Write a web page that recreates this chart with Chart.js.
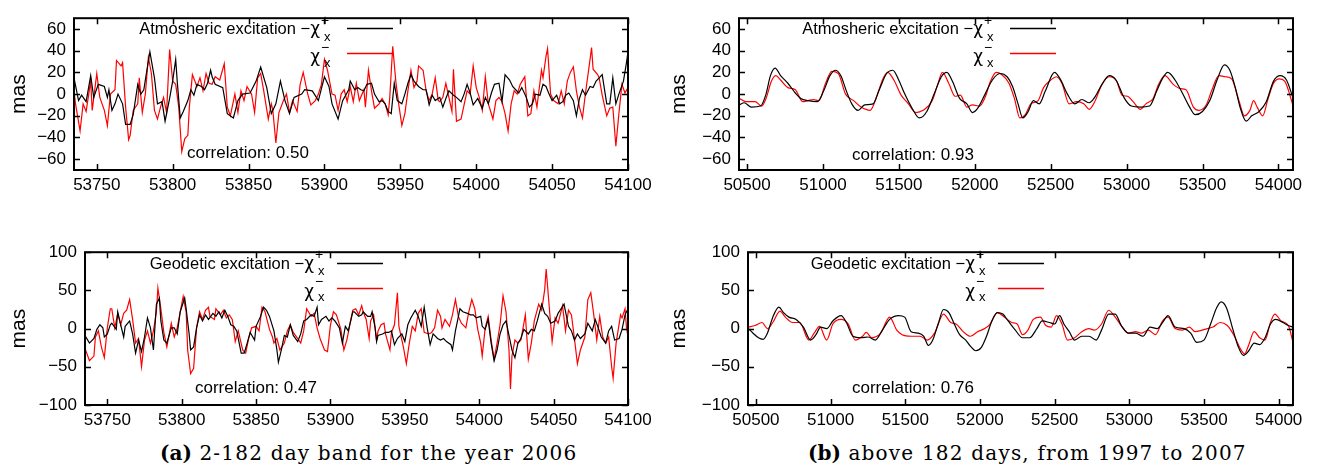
<!DOCTYPE html>
<html>
<head>
<meta charset="utf-8">
<script src="https://cdn.jsdelivr.net/npm/chart.js@4.4.1/dist/chart.umd.min.js"></script>
<style>
html, body { margin: 0; padding: 0; background: #fff; }
body { width: 1325px; height: 476px; position: relative; overflow: hidden; }
.panel { position: absolute; height: 200px; }
.cap { position: absolute; top: 440px; font-family: "DejaVu Serif", serif; font-size: 20px; line-height: 26px; letter-spacing: 1.2px; color: #000; white-space: nowrap; }
.cap b { letter-spacing: 0; }
</style>
</head>
<body>
<div class="panel" style="left:0;top:0;width:660px"><canvas id="aTop" width="660" height="200"></canvas></div>
<div class="panel" style="left:660px;top:0;width:665px"><canvas id="bTop" width="665" height="200"></canvas></div>
<div class="panel" style="left:0;top:234px;width:660px"><canvas id="aBot" width="660" height="200"></canvas></div>
<div class="panel" style="left:660px;top:234px;width:665px"><canvas id="bBot" width="665" height="200"></canvas></div>
<div class="cap" style="left:160px"><b>(a)</b> 2-182 day band for the year 2006</div>
<div class="cap" style="left:808px"><b>(b)</b> above 182 days, from 1997 to 2007</div>
<script>
// tick labels
const aXTicks = [53750, 53800, 53850, 53900, 53950, 54000, 54050, 54100];
const bXTicks = [50500, 51000, 51500, 52000, 52500, 53000, 53500, 54000];
const atmYTicks = [-60, -40, -20, 0, 20, 40, 60];
const geoYTicks = [-100, -50, 0, 50, 100];

// (a) 2-182 day band, atmospheric, -chi+ (black)
const aAtmPlusDays = [53735,53738,53740,53743,53746,53748,53751,53755,53757,53758,53760,53762,53764,53767,53769,53772,53774,53777,53779,53781,53783,53785,53788,53790,53793,53795,53798,53800,53802,53803,53805,53807,53810,53812,53814,53816,53819,53821,53823,53825,53826,53828,
  53833,53836,53840,53843,53846,53851,53855,53858,53862,53865,53868,53871,53874,53877,53880,53885,53887,53892,53896,53900,53903,53905,53909,53912,
  53916,53917,53920,53922,53924,53926,53928,53931,53933,53936,53938,53940,53942,53944,53946,53948,53951,53953,53955,53957,53959,53962,53965,53967,53969,53971,53973,53976,53978,53980,53982,53985,53987,53990,53992,53994,53996,53998,54001,54004,54006,54008,54010,54012,54015,54017,54019,54022,54024,54026,54028,54030,54033,54035,54037,54039,54042,54044,54046,54048,54050,54053,54055,54057,54059,54061,54064,54066,54068,54070,54072,54075,54077,54079,54081,54083,54086,54088,54090,54092,54094,54097,54099,54100];
const aAtmPlus = [15,-6,-1,-7,17,-3,9,7,-3,4,-15,-9,0,-9,-28,-28,-19,9,0,4,22,39,15,-9,-7,-25,-4,12,32,12,-22,-16,-6,4,-1,9,7,4,10,22,16,9,
  6,-18,-22,-6,0,1,12,25,6,-18,-9,12,-6,-18,-3,0,4,3,-6,16,7,-9,-23,-6,
  4,12,4,6,4,3,9,10,0,-7,-6,-9,-16,-18,10,-6,-9,0,10,18,12,7,4,4,-10,-1,-6,-3,-12,-4,3,-1,-3,-7,0,9,1,-10,-4,-13,-3,-9,1,9,10,-7,18,13,7,4,1,6,-3,-12,-9,0,-1,9,7,0,-6,-1,-9,-7,-1,1,-6,-20,-4,4,-1,7,6,12,15,18,-9,-9,15,-9,0,12,29,39];

// (a) atmospheric, chi- (red)
const aAtmMinusDays = [53735,53736,53739,53741,53743,53746,53747,53750,53752,53755,53757,53759,53762,53763,53766,53767,53769,53771,53772,53774,53777,53778,53780,53782,53784,53786,53788,53790,53792,53794,53796,53798,53800,53802,53804,53806,53808,53810,53811,53813,53816,53818,53820,53822,53824,53826,53828,53831,53834,53836,53838,53841,53843,53845,53847,53849,53852,53854,53856,53858,53860,53863,53865,53866,53868,53870,53873,53875,53877,53879,53882,53884,53886,53889,53891,53894,53896,53898,53900,53902,53905,53907,53909,53911,53913,
  53915,53917,53919,53921,53923,53926,53927,53929,53931,53933,53936,53938,53940,53942,53943,53945,53947,53949,53951,53953,53955,53957,53959,53961,53962,53965,53967,53969,53971,53973,53975,53976,53978,53980,53982,53984,53985,53987,53990,53992,53994,53996,53998,54000,54002,54004,54006,54008,54011,54013,54015,54017,54019,54021,54023,54025,54027,54029,54032,54034,54036,54038,54040,54043,54044,54046,54047,54049,54051,54054,54056,54058,54060,54062,54064,54066,54068,54070,54072,54075,54076,54077,54080,54081,54083,54086,54088,54090,54092,54094,54096,54098,54100];
const aAtmMinus = [3,-9,-34,-9,-16,12,-15,19,-3,-15,-29,0,4,31,26,29,-12,-42,-38,-15,-9,15,-17,0,34,19,-15,-23,-12,-3,-17,41,12,9,-12,-53,-41,-38,-12,18,7,15,3,19,10,9,16,13,28,-12,-20,0,-17,3,-6,7,0,-17,15,19,3,-23,-9,-15,-45,-17,-6,0,-17,-6,-16,9,20,0,-10,-6,0,9,32,22,0,-1,-15,0,4,
  -7,7,-7,10,-6,4,-12,22,3,-13,-9,-4,-9,-19,-4,44,12,-10,-29,-18,3,22,6,12,26,22,3,-6,0,15,-6,-7,-3,10,-3,-16,23,-25,-23,-10,3,0,26,6,-3,-15,16,-9,-23,-6,-3,-7,-18,-34,-9,3,0,9,16,-20,-18,3,-12,22,15,35,42,0,-6,-9,3,-9,12,20,25,3,-12,-22,1,32,43,23,18,15,-1,-20,-13,-12,-48,-18,9,1,6];

// (a) geodetic, -chi+ (black)
const aGeoPlusDays = [53735,53738,53741,53743,53745,53747,53748,53750,53752,53753,53756,53757,53759,53761,53762,53765,53767,53769,53771,53773,53775,53777,53779,53781,53783,53785,53786,53788,53790,53793,53795,53797,53799,53802,53803,53805,53806,53808,53810,53812,53814,53816,53818,53821,53823,53825,53827,53829,53831,53833,53835,53837,53840,53842,53844,53846,53849,53850,53853,53855,53857,53859,53862,53864,53865,53867,53869,53871,53873,53875,53878,53880,53882,53884,53887,53889,53891,53892,53894,53897,53899,53901,53903,53906,53908,53910,53912,53915,
  53916,53919,53921,53922,53925,53927,53928,53930,53931,53932,53935,53937,53939,53941,53943,53945,53948,53950,53952,53954,53957,53959,53961,53963,53965,53967,53969,53972,53974,53976,53978,53981,53982,53984,53986,53987,53989,53992,53994,53996,53998,54001,54002,54004,54006,54008,54010,54012,54014,54016,54018,54020,54022,54024,54026,54028,54030,54033,54035,54037,54039,54042,54044,54046,54048,54051,54053,54055,54057,54060,54062,54064,54066,54068,54071,54073,54076,54078,54080,54082,54085,54087,54089,54091,54094,54096,54098,54100];
const aGeoPlus = [-9,-19,-13,-1,5,1,-11,-7,5,7,-1,22,5,-11,3,10,-7,-32,-15,-30,-11,14,1,-28,32,40,10,-15,-19,1,1,-7,22,40,26,-7,-28,-24,1,18,10,18,12,20,16,22,14,24,16,5,3,-3,-32,-32,-19,-5,-15,3,16,28,24,16,-3,-28,-44,-28,-9,-11,5,-9,-17,-7,10,12,18,16,28,5,12,16,10,14,10,1,-19,3,-3,22,
  22,16,18,22,16,16,22,1,-17,-9,-7,-5,-5,-3,-21,-13,-7,-17,5,14,24,16,3,28,1,-21,-7,-13,-15,-13,-17,-21,-28,-3,16,26,22,20,18,18,14,16,3,-1,12,-19,-42,-28,-7,5,10,-9,-28,-38,-19,-13,-1,-7,-1,-3,10,32,20,16,7,10,20,26,32,3,-3,-15,-7,-13,-7,7,-3,12,1,-11,-19,-3,3,-15,-13,-1,18,26];

// (a) geodetic, chi- (red)
const aGeoMinusDays = [53735,53738,53741,53742,53744,53746,53748,53750,53752,53753,53755,53757,53759,53761,53763,53765,53767,53769,53771,53773,53775,53777,53779,53781,53783,53784,53786,53788,53790,53793,53795,53797,53799,53801,53803,53804,53806,53808,53810,53812,53814,53816,53818,53819,53822,53823,53826,53828,53830,53832,53834,53836,53838,53841,53843,53845,53847,53850,53852,53854,53856,53859,53861,53862,53864,53866,53869,53871,53873,53875,53878,53880,53882,53884,53887,53889,53891,53893,53896,53898,53900,53902,53904,53907,53909,53911,53913,53915,
  53917,53919,53921,53922,53924,53926,53927,53929,53931,53932,53934,53936,53937,53940,53941,53943,53945,53946,53949,53951,53953,53955,53957,53959,53961,53963,53966,53968,53970,53972,53974,53975,53977,53980,53982,53984,53986,53988,53991,53993,53995,53997,53999,54001,54002,54004,54006,54008,54010,54012,54014,54016,54018,54020,54021,54022,54024,54026,54028,54031,54033,54035,54037,54040,54042,54044,54045,54047,54049,54051,54053,54056,54058,54060,54062,54064,54066,54068,54071,54073,54075,54077,54079,54081,54083,54085,54087,54089,54090,54092,54095,54096,54098,54099,54100];
const aGeoMinus = [-26,-42,-36,-11,-3,-24,-38,1,26,26,1,20,5,20,24,38,12,-19,-13,-50,-15,-3,-19,-3,22,53,26,-5,-24,7,-11,1,22,42,22,-28,-59,-52,1,22,12,24,28,16,12,26,18,24,14,18,12,-17,-3,-28,-32,-13,1,3,-3,28,22,-1,-11,-19,-13,-28,-19,-3,5,-5,-13,-19,-3,26,16,20,1,-13,-28,-30,5,22,18,-1,-28,-15,5,24,
  26,18,30,22,12,-13,10,18,-15,-3,5,7,-7,-28,-5,5,47,3,-24,-46,-19,3,-3,20,26,-5,-7,-5,1,24,16,1,12,3,18,38,16,7,1,22,38,26,-1,-19,-36,1,16,-15,-40,-19,5,43,22,-28,-79,-36,-15,-19,-15,18,-40,-19,10,32,24,51,78,30,-17,14,7,30,-3,24,18,-13,-46,-28,-11,38,47,18,-15,16,-11,-19,-11,-50,-65,-19,18,14,26,1,-11];

// (b) above 182 days, atmospheric
const bAtmPlusDays = [50450,50481,50529,50589,50625,50654,50685,50721,50769,50818,50854,50902,50962,51005,51046,51082,51118,51154,51190,51231,51275,51330,51371,51419,51460,51496,51539,51587,51635,51684,51732,51780,51816,51852,51900,51948,51984,52020,52068,52116,52165,52213,52249,52285,52316,52352,52386,52424,52465,52525,52562,52610,52658,52706,52754,52790,52838,52886,52930,52982,53031,53091,53151,53199,53235,53271,53319,53367,53415,53452,53500,53548,53596,53644,53680,53716,53747,53788,53824,53873,53920,53968,54012,54053,54095];
const bAtmPlus = [-10,-8,-12,-11,0,17,24,17,10,1,-4,-6,-7,3,17,22,17,3,-9,-15,-10,-9,4,19,22,14,0,-13,-22,-16,0,16,20,12,-4,-9,-17,-13,0,13,19,16,7,-9,-22,-16,-6,-9,3,20,14,0,-9,-5,-8,-3,9,17,13,-3,-11,-12,-11,3,14,20,13,1,-12,-19,-16,-6,13,27,22,6,-12,-25,-20,-16,-7,12,17,13,-3];
const bAtmMinusDays = [50450,50493,50553,50596,50625,50661,50690,50721,50769,50818,50866,50902,50938,50974,51015,51058,51101,51149,51202,51251,51311,51359,51395,51426,51467,51515,51563,51611,51659,51720,51756,51787,51828,51871,51905,51948,51984,52032,52068,52104,52141,52177,52225,52261,52297,52333,52369,52417,52453,52501,52537,52574,52622,52670,52718,52754,52790,52838,52886,52934,52970,53006,53043,53091,53127,53175,53211,53252,53307,53355,53391,53440,53476,53524,53560,53608,53651,53692,53740,53776,53812,53836,53860,53896,53932,53968,54005,54041,54095];
const bAtmMinus = [-4,-7,-7,-11,-4,12,17,13,6,4,-7,-6,-5,-6,9,21,19,0,-6,-12,-15,0,14,20,13,-1,-9,-17,-15,-6,9,20,10,-2,-1,-12,-10,-11,-3,12,20,18,10,-4,-22,-19,-9,-6,6,13,16,10,-9,-7,-9,-14,-7,9,16,12,-1,-2,-7,-14,-9,-4,9,17,9,5,4,-12,-15,-10,3,17,16,14,-6,-20,-15,-6,-12,-20,-4,10,14,12,-10];

// (b) geodetic
const bGeoPlusDays = [50450,50481,50517,50548,50577,50613,50654,50685,50721,50769,50818,50866,50902,50933,50974,51015,51070,51106,51149,51202,51251,51299,51347,51395,51455,51496,51539,51587,51623,51655,51684,51720,51756,51792,51828,51864,51905,51936,51972,52008,52044,52080,52116,52153,52189,52237,52285,52333,52381,52417,52465,52501,52533,52562,52598,52634,52682,52730,52778,52814,52862,52906,52946,52995,53043,53091,53139,53187,53223,53259,53307,53367,53411,53452,53500,53548,53584,53615,53651,53692,53728,53764,53800,53836,53873,53909,53945,53981,54029,54065,54095];
const bGeoPlus = [0,-6,-12,-14,-6,15,28,21,15,12,2,-15,-8,2,0,10,17,8,-10,-12,-11,-15,-2,12,17,15,-4,-6,-10,-22,-15,6,25,21,6,-8,-15,-23,-29,-25,-10,10,21,19,10,-2,-12,-12,0,10,8,6,17,6,-4,-15,-10,-10,-15,-2,19,19,4,-6,-6,-10,2,0,8,17,2,0,-6,-18,-15,8,27,35,27,0,-23,-35,-29,-19,-21,-12,6,12,8,4,2];
const bGeoMinusDays = [50450,50493,50541,50577,50613,50661,50697,50745,50793,50854,50890,50926,50974,51015,51070,51118,51166,51214,51239,51275,51335,51395,51443,51479,51539,51599,51647,51696,51756,51804,51840,51888,51936,51984,52032,52068,52116,52165,52213,52249,52285,52321,52357,52405,52441,52477,52513,52549,52586,52634,52682,52730,52766,52814,52862,52898,52946,52995,53043,53079,53127,53175,53223,53259,53307,53355,53403,53440,53488,53524,53560,53608,53656,53704,53740,53772,53800,53836,53873,53909,53945,53974,54017,54065,54095];
const bGeoMinus = [2,4,8,0,8,23,15,8,8,-15,-6,3,-15,6,12,6,-15,-10,-5,-12,-6,15,-2,-8,-10,-10,-15,-6,19,8,6,-4,-10,-4,0,6,21,15,8,6,-8,-2,12,15,4,2,17,6,-15,-12,-4,0,-2,6,24,17,4,-6,-4,-6,-2,-8,10,15,0,-2,2,-4,-2,0,2,8,4,-10,-25,-33,-21,-4,-12,-15,8,19,10,4,-17];

const SANS = '"Liberation Sans", Arial, sans-serif';
Chart.defaults.font.family = SANS;
Chart.defaults.font.size = 17;
Chart.defaults.color = '#000';

// gnuplot-like box, mirrored inward ticks, key and correlation note
const gnuFrame = {
  id: 'gnu',
  afterDraw(chart, args, o) {
    const { ctx, chartArea: a } = chart;
    const sx = chart.scales.x, sy = chart.scales.y;
    ctx.save();
    ctx.strokeStyle = '#000';
    ctx.lineWidth = 1.5;
    ctx.beginPath();
    sx.ticks.forEach(t => {
      const px = Math.round(sx.getPixelForValue(t.value)) + 0.5;
      ctx.moveTo(px, a.bottom); ctx.lineTo(px, a.bottom - 6);
      ctx.moveTo(px, a.top); ctx.lineTo(px, a.top + 6);
    });
    sy.ticks.forEach(t => {
      const py = Math.round(sy.getPixelForValue(t.value)) + 0.5;
      ctx.moveTo(a.left, py); ctx.lineTo(a.left + 6, py);
      ctx.moveTo(a.right, py); ctx.lineTo(a.right - 6, py);
    });
    ctx.stroke();
    ctx.lineWidth = 2;
    ctx.strokeRect(a.left, a.top, a.right - a.left, a.bottom - a.top);

    // key: text, chi with super/subscript, sample line
    const ds = chart.data.datasets;
    ctx.fillStyle = '#000';
    ctx.textBaseline = 'middle';
    [o.key, ''].forEach((label, i) => {
      const ly = o.rows[i];
      ctx.textAlign = 'right';
      ctx.font = '17px "DejaVu Sans", sans-serif';
      ctx.fillText('\u03c7', o.chiRight, o.chiY[i]);
      const cw = ctx.measureText('\u03c7').width;
      if (label) {
        ctx.font = '16.5px ' + SANS;
        ctx.fillText(label, o.chiRight - cw, o.chiY[i] - 1);
      }
      ctx.textAlign = 'left';
      ctx.font = '14px ' + SANS;
      ctx.fillText(i === 0 ? '+' : '\u2212', o.chiRight + 1, o.supY[i]);
      ctx.font = '13px ' + SANS;
      ctx.fillText('x', o.chiRight + 4, o.subY[i]);
      ctx.strokeStyle = ds[i].borderColor;
      ctx.lineWidth = 1.3;
      ctx.beginPath();
      ctx.moveTo(o.lineX[0], ly + 0.5);
      ctx.lineTo(o.lineX[1], ly + 0.5);
      ctx.stroke();
    });

    ctx.font = '17px ' + SANS;
    ctx.textAlign = 'left';
    ctx.fillText(o.corr, o.corrX, o.corrY);
    ctx.restore();
  }
};

function pts(days, vals) {
  return days.map((d, i) => ({ x: d, y: vals[i] }));
}

function makePanel(p) {
  const line = {
    borderWidth: 1.2, pointRadius: 0,
    tension: p.smooth ? 0.4 : 0,
    cubicInterpolationMode: p.smooth ? 'monotone' : 'default'
  };
  new Chart(document.getElementById(p.id), {
    type: 'line',
    data: {
      datasets: [
        Object.assign({ data: pts(p.plusDays, p.plus), borderColor: '#000000' }, line),
        Object.assign({ data: pts(p.minusDays, p.minus), borderColor: '#ff0000' }, line)
      ]
    },
    plugins: [gnuFrame],
    options: {
      responsive: false,
      animation: false,
      layout: { padding: { top: p.padTop, right: p.padRight, left: 0, bottom: 0 } },
      plugins: {
        legend: { display: false },
        tooltip: { enabled: false },
        gnu: p.gnu
      },
      scales: {
        x: {
          type: 'linear', min: p.xRange[0], max: p.xRange[1],
          grid: { display: false, drawTicks: false },
          border: { display: false },
          afterBuildTicks: s => { s.ticks = p.xTicks.map(v => ({ value: v })); },
          afterFit: s => { s.height = p.xAxisH; },
          ticks: { padding: 5, maxRotation: 0, autoSkip: false, callback: v => String(v) }
        },
        y: {
          min: p.yRange[0], max: p.yRange[1],
          grid: { display: false, drawTicks: false },
          border: { display: false },
          afterBuildTicks: s => { s.ticks = p.yTicks.map(v => ({ value: v })); },
          afterFit: s => { s.width = p.yAxisW; },
          ticks: { padding: 8, autoSkip: false, callback: v => String(v).replace('-', '\u2212') },
          title: { display: true, text: 'mas', font: { size: 21 }, padding: { top: 7, bottom: 0 } }
        }
      }
    }
  });
}

const topKey = { rows: [28, 53], chiY: [30, 58], supY: [21, 48], subY: [37, 63] };
const botKey = { rows: [29, 54], chiY: [31, 59], supY: [21, 48], subY: [37, 63] };

makePanel({
  id: 'aTop', xRange: [53735, 54100], xTicks: aXTicks, yRange: [-70, 70], yTicks: atmYTicks,
  plusDays: aAtmPlusDays, plus: aAtmPlus, minusDays: aAtmMinusDays, minus: aAtmMinus, smooth: false,
  yAxisW: 74, padRight: 32, padTop: 10, xAxisH: 30,
  gnu: Object.assign({ key: 'Atmosheric excitation \u2212', chiRight: 320, lineX: [347, 393],
         corr: 'correlation: 0.50', corrX: 187, corrY: 153 }, topKey)
});
makePanel({
  id: 'bTop', xRange: [50447, 54096], xTicks: bXTicks, yRange: [-70, 70], yTicks: atmYTicks,
  plusDays: bAtmPlusDays, plus: bAtmPlus, minusDays: bAtmMinusDays, minus: bAtmMinus, smooth: true,
  yAxisW: 79, padRight: 32, padTop: 10, xAxisH: 30,
  gnu: Object.assign({ key: 'Atmosheric excitation \u2212', chiRight: 323, lineX: [350, 396],
         corr: 'correlation: 0.93', corrX: 192, corrY: 155 }, topKey)
});
makePanel({
  id: 'aBot', xRange: [53735, 54100], xTicks: aXTicks, yRange: [-100, 100], yTicks: geoYTicks,
  plusDays: aGeoPlusDays, plus: aGeoPlus, minusDays: aGeoMinusDays, minus: aGeoMinus, smooth: false,
  yAxisW: 85, padRight: 32, padTop: 10, xAxisH: 29,
  gnu: Object.assign({ key: 'Geodetic excitation \u2212', chiRight: 314, lineX: [337, 383],
         corr: 'correlation: 0.47', corrX: 195, corrY: 154 }, botKey)
});
makePanel({
  id: 'bBot', xRange: [50447, 54096], xTicks: bXTicks, yRange: [-100, 100], yTicks: geoYTicks,
  plusDays: bGeoPlusDays, plus: bGeoPlus, minusDays: bGeoMinusDays, minus: bGeoMinus, smooth: true,
  yAxisW: 88, padRight: 32, padTop: 10, xAxisH: 29,
  gnu: Object.assign({ key: 'Geodetic excitation \u2212', chiRight: 315, lineX: [338, 384],
         corr: 'correlation: 0.76', corrX: 192, corrY: 154 }, botKey)
});
</script>
</body>
</html>
